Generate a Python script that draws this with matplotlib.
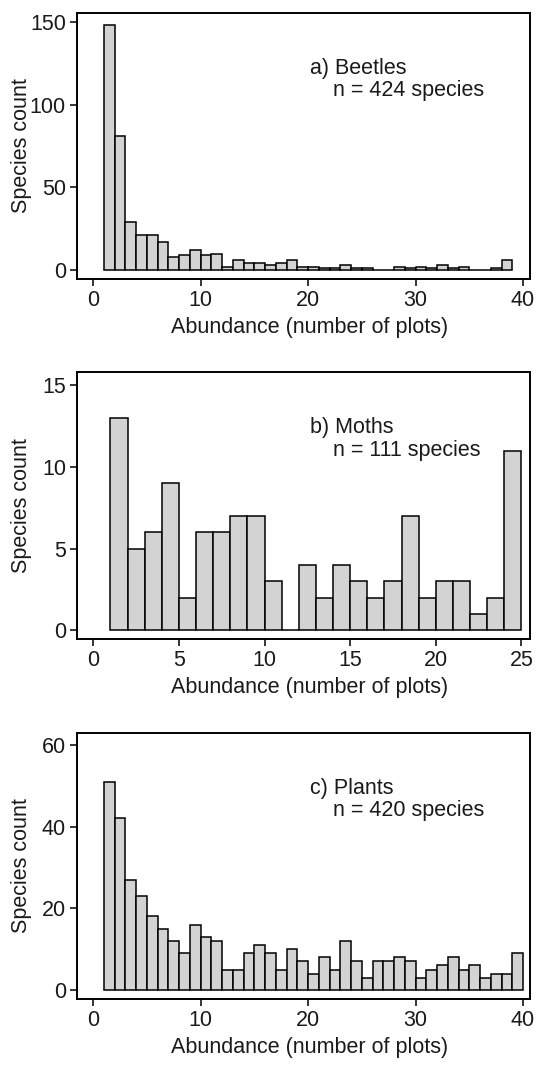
import matplotlib

matplotlib.use("Agg")
import matplotlib.pyplot as plt
import numpy as np

# species counts per abundance class (bins of width 1 starting at 1)
beetle_counts = [148, 81, 29, 21, 21, 17, 8, 9, 12, 9, 10, 2, 6, 4, 4, 3, 4,
                 6, 2, 2, 1, 1, 3, 1, 1, 0, 0, 2, 1, 2, 1, 3, 1, 2, 0, 0, 1, 6]
moth_counts = [13, 5, 6, 9, 2, 6, 6, 7, 7, 3, 0, 4, 2, 4, 3, 2, 3, 7, 2, 3,
               3, 1, 2, 11]
plant_counts = [51, 42, 27, 23, 18, 15, 12, 9, 16, 13, 12, 5, 5, 9, 11, 9, 5,
                10, 7, 4, 8, 5, 12, 7, 3, 7, 7, 8, 7, 3, 5, 6, 8, 5, 6, 3, 4,
                4, 9]

panel_labels = ["a) Beetles", "b) Moths", "c) Plants"]
species_n = [424, 111, 420]
y_ticks = [[0, 50, 100, 150], [0, 5, 10, 15], [0, 20, 40, 60]]
x_ticks = [[0, 10, 20, 30, 40], [0, 5, 10, 15, 20, 25], [0, 10, 20, 30, 40]]

plt.rcParams["font.family"] = ["Liberation Sans", "DejaVu Sans"]

W, H = 538, 1065
fig = plt.figure(figsize=(W / 100, H / 100), dpi=100)


def px_axes(left, top, right, bottom):
    return fig.add_axes([left / W, 1 - bottom / H, (right - left) / W,
                         (bottom - top) / H])


boxes = [(77, 13, 530, 279), (77, 372, 530, 639), (77, 733, 530, 999)]
ylims = [(-5.4, 155.4), (-0.52, 15.8), (-2.2, 62.9)]
xlims = [(-1.49, 40.65), (-0.95, 25.5), (-1.49, 40.65)]
all_counts = [beetle_counts, moth_counts, plant_counts]
fs = 15.5
txt_color = "#1a1a1a"

for i, counts in enumerate(all_counts):
    left, top, right, bottom = boxes[i]
    ax = px_axes(left, top, right, bottom)
    left_edges = np.arange(1, len(counts) + 1)
    ax.bar(left_edges, counts, width=1, align="edge", color="#d3d3d3",
           edgecolor="black", linewidth=1.1)
    ax.set_xlim(*xlims[i])
    ax.set_ylim(*ylims[i])
    ax.set_xticks(x_ticks[i])
    ax.set_yticks(y_ticks[i])
    ax.tick_params(direction="out", length=5, width=1.1, labelsize=fs,
                   pad=3, colors="black", labelcolor=txt_color)
    for s in ax.spines.values():
        s.set_linewidth(1.4)
    ax.set_xlabel("Abundance (number of plots)", fontsize=fs,
                  color=txt_color, va="center")
    ax.set_ylabel("Species count", fontsize=fs, color=txt_color,
                  va="center")
    h = bottom - top
    ax.xaxis.set_label_coords((310 - left) / (right - left), -48 / h)
    ax.yaxis.set_label_coords((22 - left) / (right - left), 0.5)
    ax.text(0.514, 0.793, panel_labels[i], transform=ax.transAxes,
            fontsize=fs, va="center", ha="left", color=txt_color)
    ax.text(0.565, 0.707, f"n = {species_n[i]} species",
            transform=ax.transAxes, fontsize=fs, va="center", ha="left",
            color=txt_color)

fig.savefig("out.png", dpi=100)
